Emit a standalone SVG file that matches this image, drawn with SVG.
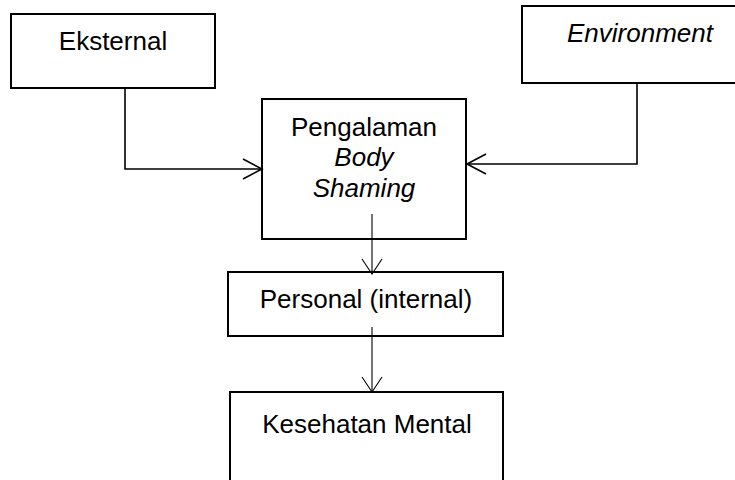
<svg xmlns="http://www.w3.org/2000/svg" width="735" height="480" viewBox="0 0 735 480">
  <style>
    .box { fill: #ffffff; stroke: #000000; stroke-width: 2; }
    .lbl { font-family: "Liberation Sans", Arial, sans-serif; font-size: 26px; fill: #000000; text-anchor: middle; }
    .it { font-style: italic; }
    .conA { fill: none; stroke: #000000; stroke-width: 1.6; }
    .conB { fill: none; stroke: #000000; stroke-width: 1.1; }
  </style>
  <defs>
    <marker id="arrA" viewBox="0 0 22 22" refX="20" refY="11" markerWidth="22" markerHeight="22" markerUnits="userSpaceOnUse" orient="auto">
      <path d="M1,1 L20,11 L1,21" fill="none" stroke="#000000" stroke-width="1.6"/>
    </marker>
    <marker id="arrB" viewBox="0 0 18 22" refX="16" refY="11" markerWidth="18" markerHeight="22" markerUnits="userSpaceOnUse" orient="auto">
      <path d="M1,1 L16,11 L1,21" fill="none" stroke="#000000" stroke-width="1.1"/>
    </marker>
  </defs>
  <rect width="735" height="480" fill="#ffffff"/>

  <g id="eksternal">
    <rect class="box" x="11" y="14" width="204" height="74"/>
    <text class="lbl" x="113" y="50">Eksternal</text>
  </g>

  <g id="environment">
    <rect class="box" x="522" y="6" width="240" height="77"/>
    <text class="lbl it" x="640" y="42">Environment</text>
  </g>

  <g id="pengalaman">
    <rect class="box" x="262" y="99" width="204" height="140"/>
    <text class="lbl" x="364" y="136">Pengalaman</text>
    <text class="lbl it" x="364" y="166">Body</text>
    <text class="lbl it" x="364" y="197">Shaming</text>
  </g>

  <g id="personal">
    <rect class="box" x="228" y="272" width="275" height="64"/>
    <text class="lbl" x="366" y="308">Personal (internal)</text>
  </g>

  <g id="kesehatan">
    <rect class="box" x="230" y="392" width="273" height="100"/>
    <text class="lbl" x="367" y="433">Kesehatan Mental</text>
  </g>

  <g id="connectors">
    <polyline class="conA" points="125,88 125,169 262,169" marker-end="url(#arrA)"/>
    <polyline class="conA" points="637,83 637,164 467,164" marker-end="url(#arrA)"/>
    <line class="conB" x1="372" y1="214" x2="372" y2="274" marker-end="url(#arrB)"/>
    <line class="conB" x1="372" y1="327" x2="372" y2="392" marker-end="url(#arrB)"/>
  </g>
</svg>
